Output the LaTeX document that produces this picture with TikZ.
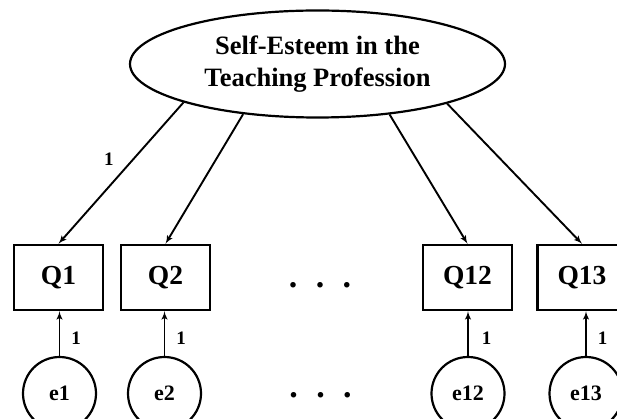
\documentclass[tikz,border=0pt]{standalone}
\usepackage{fontspec}
\setmainfont{Liberation Serif}
\usepackage{tikz}
\usetikzlibrary{arrows}
\usetikzlibrary{shapes.geometric}

\tikzset{
	latent/.style={draw,ellipse,line width=2.2pt,inner sep=0pt,align=center,minimum width=375pt,minimum height=107pt,font=\fontsize{26.5}{32}\selectfont\bfseries},
	obs/.style={draw,rectangle,line width=2.4pt,inner sep=0pt,minimum width=89pt,minimum height=65pt,font=\fontsize{27.5}{30}\selectfont\bfseries},
	err/.style={draw,circle,line width=2.2pt,inner sep=0pt,minimum size=73pt,font=\fontsize{22}{24}\selectfont\bfseries},
	load/.style={->,line width=1.9pt},
	wt/.style={inner sep=0pt,font=\fontsize{19}{20}\selectfont\bfseries},
	gap/.style={inner sep=0pt,font=\fontsize{34}{36}\selectfont\bfseries}
}

\begin{document}
\begin{tikzpicture}[>=latex',x=1pt,y=-1pt]
	\useasboundingbox (0,0) rectangle (617,419);
	\node[latent] (se) at (317.5,64) {Self-Esteem in the\\Teaching Profession};
	\node[obs] (q1) at (58.5,277.5) {Q1};
	\node[obs] (q2) at (165.5,277.5) {Q2};
	\node[obs] (q12) at (467.5,277.5) {Q12};
	\node[obs] (q13) at (582,277.5) {Q13};
	\node[err] (e1) at (59.5,393.5) {e1};
	\node[err] (e2) at (164.5,393.5) {e2};
	\node[err] (e12) at (468,393.5) {e12};
	\node[err] (e13) at (586,393.5) {e13};
	\node[gap] (d1) at (320,285) {.\hspace{18.5pt}.\hspace{18.5pt}.};
	\node[gap] (d2) at (320.5,395) {.\hspace{18.5pt}.\hspace{18.5pt}.};
	\draw[load] (se.196.8) -- node[wt,pos=0.4,left=19pt] {1} (q1.north);
	\draw[load] (se.214.5) -- (q2.north);
	\draw[load] (se.325.2) -- (q12.north);
	\draw[load] (se.343.4) -- (q13.north);
	\draw[load] (e1.north) -- node[wt,pos=0.4,right=11pt] {1} (e1.north |- q1.south);
	\draw[load] (e2.north) -- node[wt,pos=0.4,right=11pt] {1} (e2.north |- q2.south);
	\draw[load] (e12.north) -- node[wt,pos=0.4,right=13pt] {1} (e12.north |- q12.south);
	\draw[load] (e13.north) -- node[wt,pos=0.4,right=11pt] {1} (e13.north |- q13.south);
\end{tikzpicture}
\end{document}
